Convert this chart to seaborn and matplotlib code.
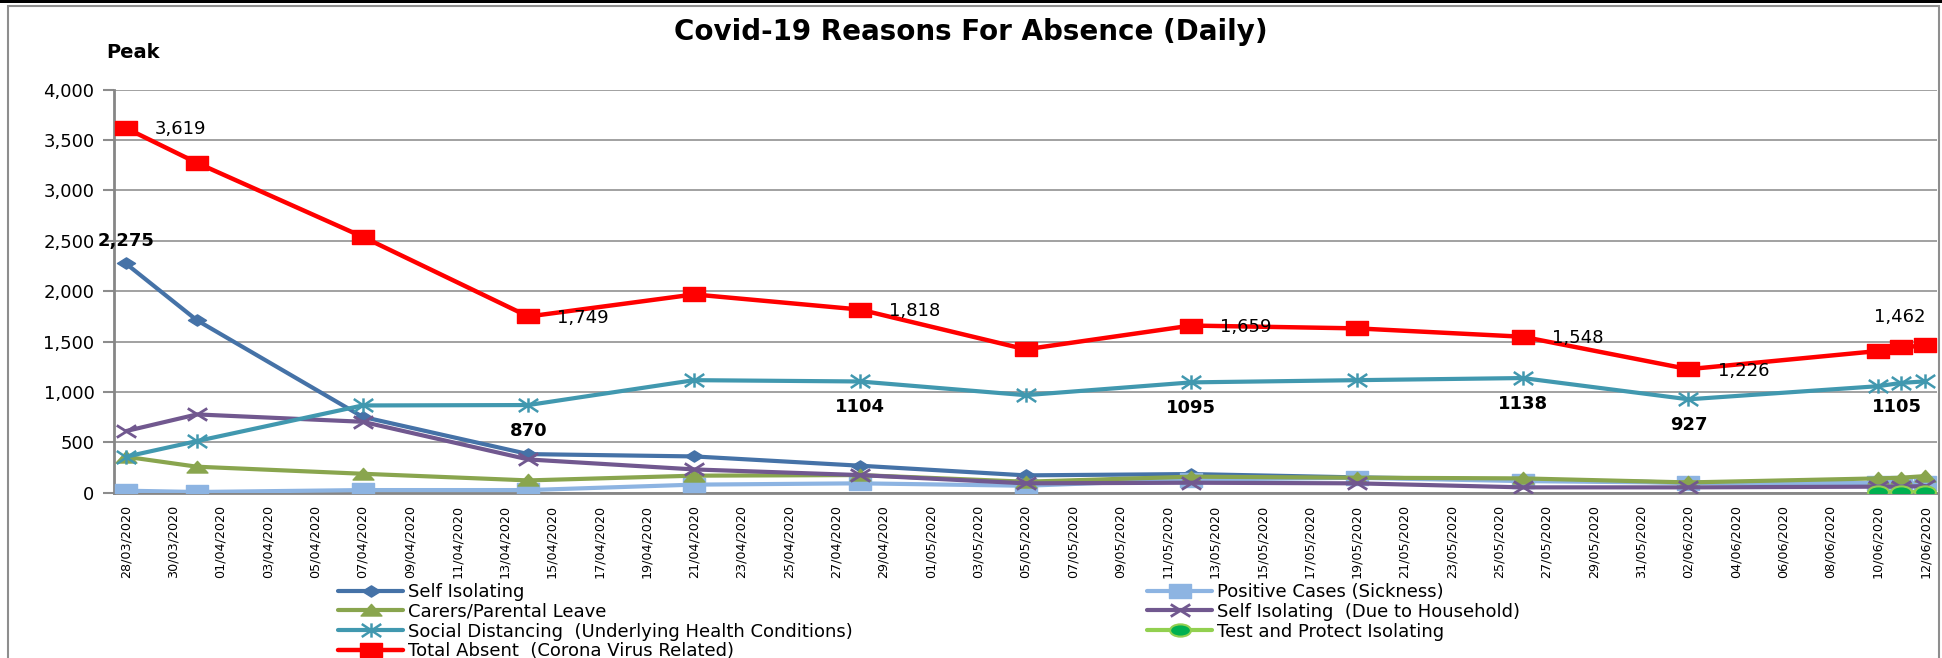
import numpy as np
import pandas as pd
import matplotlib
matplotlib.use("Agg")
import matplotlib.pyplot as plt
import matplotlib.dates as mdates
import matplotlib.ticker as mticker
from matplotlib.path import Path
from matplotlib.patches import Rectangle
import seaborn as sns

# ─── DATA ─────────────────────────────────────────────────────
dates = pd.to_datetime([
    "2020-03-28", "2020-03-31", "2020-04-07", "2020-04-14", "2020-04-21",
    "2020-04-28", "2020-05-05", "2020-05-12", "2020-05-19", "2020-05-26",
    "2020-06-02", "2020-06-10", "2020-06-11", "2020-06-12",
])

self_isolating     = [2275, 1712, 753, 383, 360, 268, 172, 185, 152, 128, 100, 90, 90, 86]
positive_cases     = [20, 7, 26, 26, 80, 93, 69, 130, 148, 115, 99, 93, 93, 93]
carers_leave       = [357, 258, 188, 122, 169, 175, 109, 159, 149, 142, 102, 142, 149, 165]
self_iso_household = [611, 777, 704, 330, 231, 175, 93, 99, 93, 53, 53, 60, 60, 66]
social_distancing  = [357, 512, 866, 870, 1117, 1104, 968, 1095, 1117, 1138, 927, 1057, 1090, 1105]
test_protect       = [np.nan] * 11 + [5, 5, 5]
total_absent       = [3619, 3274, 2540, 1749, 1968, 1818, 1423, 1659, 1631, 1548, 1226, 1406, 1442, 1462]

total_label_idx  = [0, 3, 5, 7, 9, 10]
social_label_idx = [3, 5, 7, 9, 10]

series_names = [
    "Self Isolating",
    "Positive Cases (Sickness)",
    "Carers/Parental Leave",
    "Self Isolating  (Due to Household)",
    "Social Distancing  (Underlying Health Conditions)",
    "Test and Protect Isolating",
    "Total Absent  (Corona Virus Related)",
]

# ─── STYLE ────────────────────────────────────────────────────
sns.set_style("white")
plt.rcParams["font.family"] = ["DejaVu Sans"]
plt.rcParams["text.color"] = "black"
plt.rcParams["xtick.color"] = "black"
plt.rcParams["ytick.color"] = "black"


def stretched(verts):
    codes = [Path.MOVETO] + [Path.LINETO] * (len(verts) - 1) + [Path.CLOSEPOLY]
    return Path(verts + [verts[0]], codes)


def ellipse(sx=1.7):
    c = Path.unit_circle()
    return Path(c.vertices * [sx, 1.0], c.codes)


m_rect = stretched([(-1.7, -1), (1.7, -1), (1.7, 1), (-1.7, 1)])
m_diam = stretched([(0, 1), (1.6, 0), (0, -1), (-1.6, 0)])
m_tri = stretched([(-1.7, -0.9), (1.7, -0.9), (0, 1)])
m_x = Path([(-1.6, -1), (1.6, 1), (-1.6, 1), (1.6, -1)],
           [Path.MOVETO, Path.LINETO, Path.MOVETO, Path.LINETO])
m_star = Path([(-1.5, -1), (1.5, 1), (-1.5, 1), (1.5, -1), (0, 1.1), (0, -1.1)],
              [Path.MOVETO, Path.LINETO, Path.MOVETO, Path.LINETO, Path.MOVETO, Path.LINETO])

W, H = 1942, 658
fig = plt.figure(figsize=(W / 100, H / 100), dpi=100)
ax = fig.add_axes([114 / W, 1 - 492.7 / H, (1937 - 114) / W, (492.7 - 89.7) / H])

styles = [
    dict(color="#4572A7", marker=m_diam, markersize=13, mfc="#4572A7", mec="#4572A7", lw=3),
    dict(color="#8DB4E2", marker=m_rect, markersize=16, mfc="#8DB4E2", mec="#8DB4E2", lw=3),
    dict(color="#89A54E", marker=m_tri, markersize=15, mfc="#89A54E", mec="#89A54E", lw=3),
    dict(color="#71588F", marker=m_x, markersize=14, mfc="none", mec="#71588F", mew=2, lw=3),
    dict(color="#4198AF", marker=m_star, markersize=14, mfc="none", mec="#4198AF", mew=1.8, lw=3),
    dict(color="#92D050", marker=ellipse(), markersize=15, mfc="#00B050", mec="#92D050", mew=1.5, lw=3),
    dict(color="#FF0000", marker=m_rect, markersize=16, mfc="#FF0000", mec="#FF0000", lw=3.2),
]
values = [self_isolating, positive_cases, carers_leave, self_iso_household,
          social_distancing, test_protect, total_absent]

handles = []
for name, vals, st in zip(series_names, values, styles):
    df = pd.DataFrame({"date": dates, "value": vals}).dropna()
    sns.lineplot(data=df, x="date", y="value", ax=ax, color=st["color"],
                 marker=st["marker"], markersize=st["markersize"],
                 markerfacecolor=st["mfc"], markeredgecolor=st["mec"],
                 markeredgewidth=st.get("mew", 1), linewidth=st["lw"],
                 label=name, legend=False, zorder=3)
    handles.append(ax.lines[-1])

# ─── AXES ─────────────────────────────────────────────────────
half = pd.Timedelta(hours=12)
ax.set_xlim(dates[0] - half, dates[-1] + half)
ax.set_ylim(0, 4000)
ax.yaxis.set_major_locator(mticker.MultipleLocator(500))
ax.yaxis.set_major_formatter(mticker.FuncFormatter(lambda v, p: f"{v:,.0f}"))
ax.grid(axis="y", color="#9a9a9a", linewidth=1.3, zorder=0)
ax.set_axisbelow(True)

tick_days = pd.date_range(dates[0], dates[-1], freq="2D")
ax.xaxis.set_major_locator(mticker.FixedLocator(mdates.date2num(tick_days)))
ax.xaxis.set_major_formatter(mdates.DateFormatter("%d/%m/%Y"))
ax.xaxis.set_minor_locator(mticker.FixedLocator(mdates.date2num(tick_days - half)))
ax.tick_params(axis="x", which="major", length=0, pad=9, labelsize=9.2, rotation=90)
ax.tick_params(axis="x", which="minor", length=7, width=1.5, color="#8c8c8c")
ax.tick_params(axis="y", which="major", length=8, width=1.5, color="#8c8c8c",
               labelsize=13, labelcolor="black", pad=6, left=True)
ax.tick_params(axis="x", labelcolor="black")
ax.set_xlabel("")
ax.set_ylabel("")
for s in ["top", "right"]:
    ax.spines[s].set_visible(False)
for s in ["left", "bottom"]:
    ax.spines[s].set_color("#868686")
    ax.spines[s].set_linewidth(2)

# ─── DATA LABELS ──────────────────────────────────────────────
for i in total_label_idx:
    ax.annotate(f"{total_absent[i]:,}", (dates[i], total_absent[i]), xytext=(21, -1),
                textcoords="offset points", ha="left", va="center", fontsize=13)
ax.annotate(f"{total_absent[-1]:,}", (dates[-1], total_absent[-1]), xytext=(0, 14),
            textcoords="offset points", ha="right", va="bottom", fontsize=13)
ax.annotate(f"{self_isolating[0]:,}", (dates[0], self_isolating[0]), xytext=(0, 10),
            textcoords="offset points", ha="center", va="bottom", fontsize=13,
            fontweight="bold")
for i in social_label_idx:
    ax.annotate(f"{social_distancing[i]}", (dates[i], social_distancing[i]), xytext=(0, -12),
                textcoords="offset points", ha="center", va="top", fontsize=13,
                fontweight="bold")
ax.annotate(f"{social_distancing[-1]}", (dates[-1], social_distancing[-1]), xytext=(-20, -12),
            textcoords="offset points", ha="center", va="top", fontsize=13,
            fontweight="bold")

# ─── TITLE, FRAME, LEGEND ────────────────────────────────────
fig.text(0.5, 1 - 32 / H, "Covid-19 Reasons For Absence (Daily)", ha="center", va="center",
         fontsize=20, fontweight="bold")
fig.text(106 / W, 1 - 53 / H, "Peak", ha="left", va="center", fontsize=14, fontweight="bold")

fig.patches.append(Rectangle((8 / W, -0.05), (1939 - 8) / W, 1.05 - 6 / H, transform=fig.transFigure,
                             fill=False, edgecolor="#8e8e8e", linewidth=1.5))
fig.patches.append(Rectangle((0, 1 - 3 / H), 1, 3 / H, transform=fig.transFigure,
                             facecolor="black", edgecolor="none"))

leg_kw = dict(loc="upper left", frameon=False, fontsize=13, handlelength=3.6,
              handletextpad=0.3, labelspacing=0.1, borderpad=0, borderaxespad=0)
left_order = [0, 2, 4, 6]
right_order = [1, 3, 5]
fig.legend([handles[i] for i in left_order], [series_names[i] for i in left_order],
           bbox_to_anchor=(338 / W, 1 - 583 / H), **leg_kw)
fig.legend([handles[i] for i in right_order], [series_names[i] for i in right_order],
           bbox_to_anchor=(1147 / W, 1 - 583 / H), **leg_kw)

fig.savefig("out.png", dpi=100, facecolor="white")
